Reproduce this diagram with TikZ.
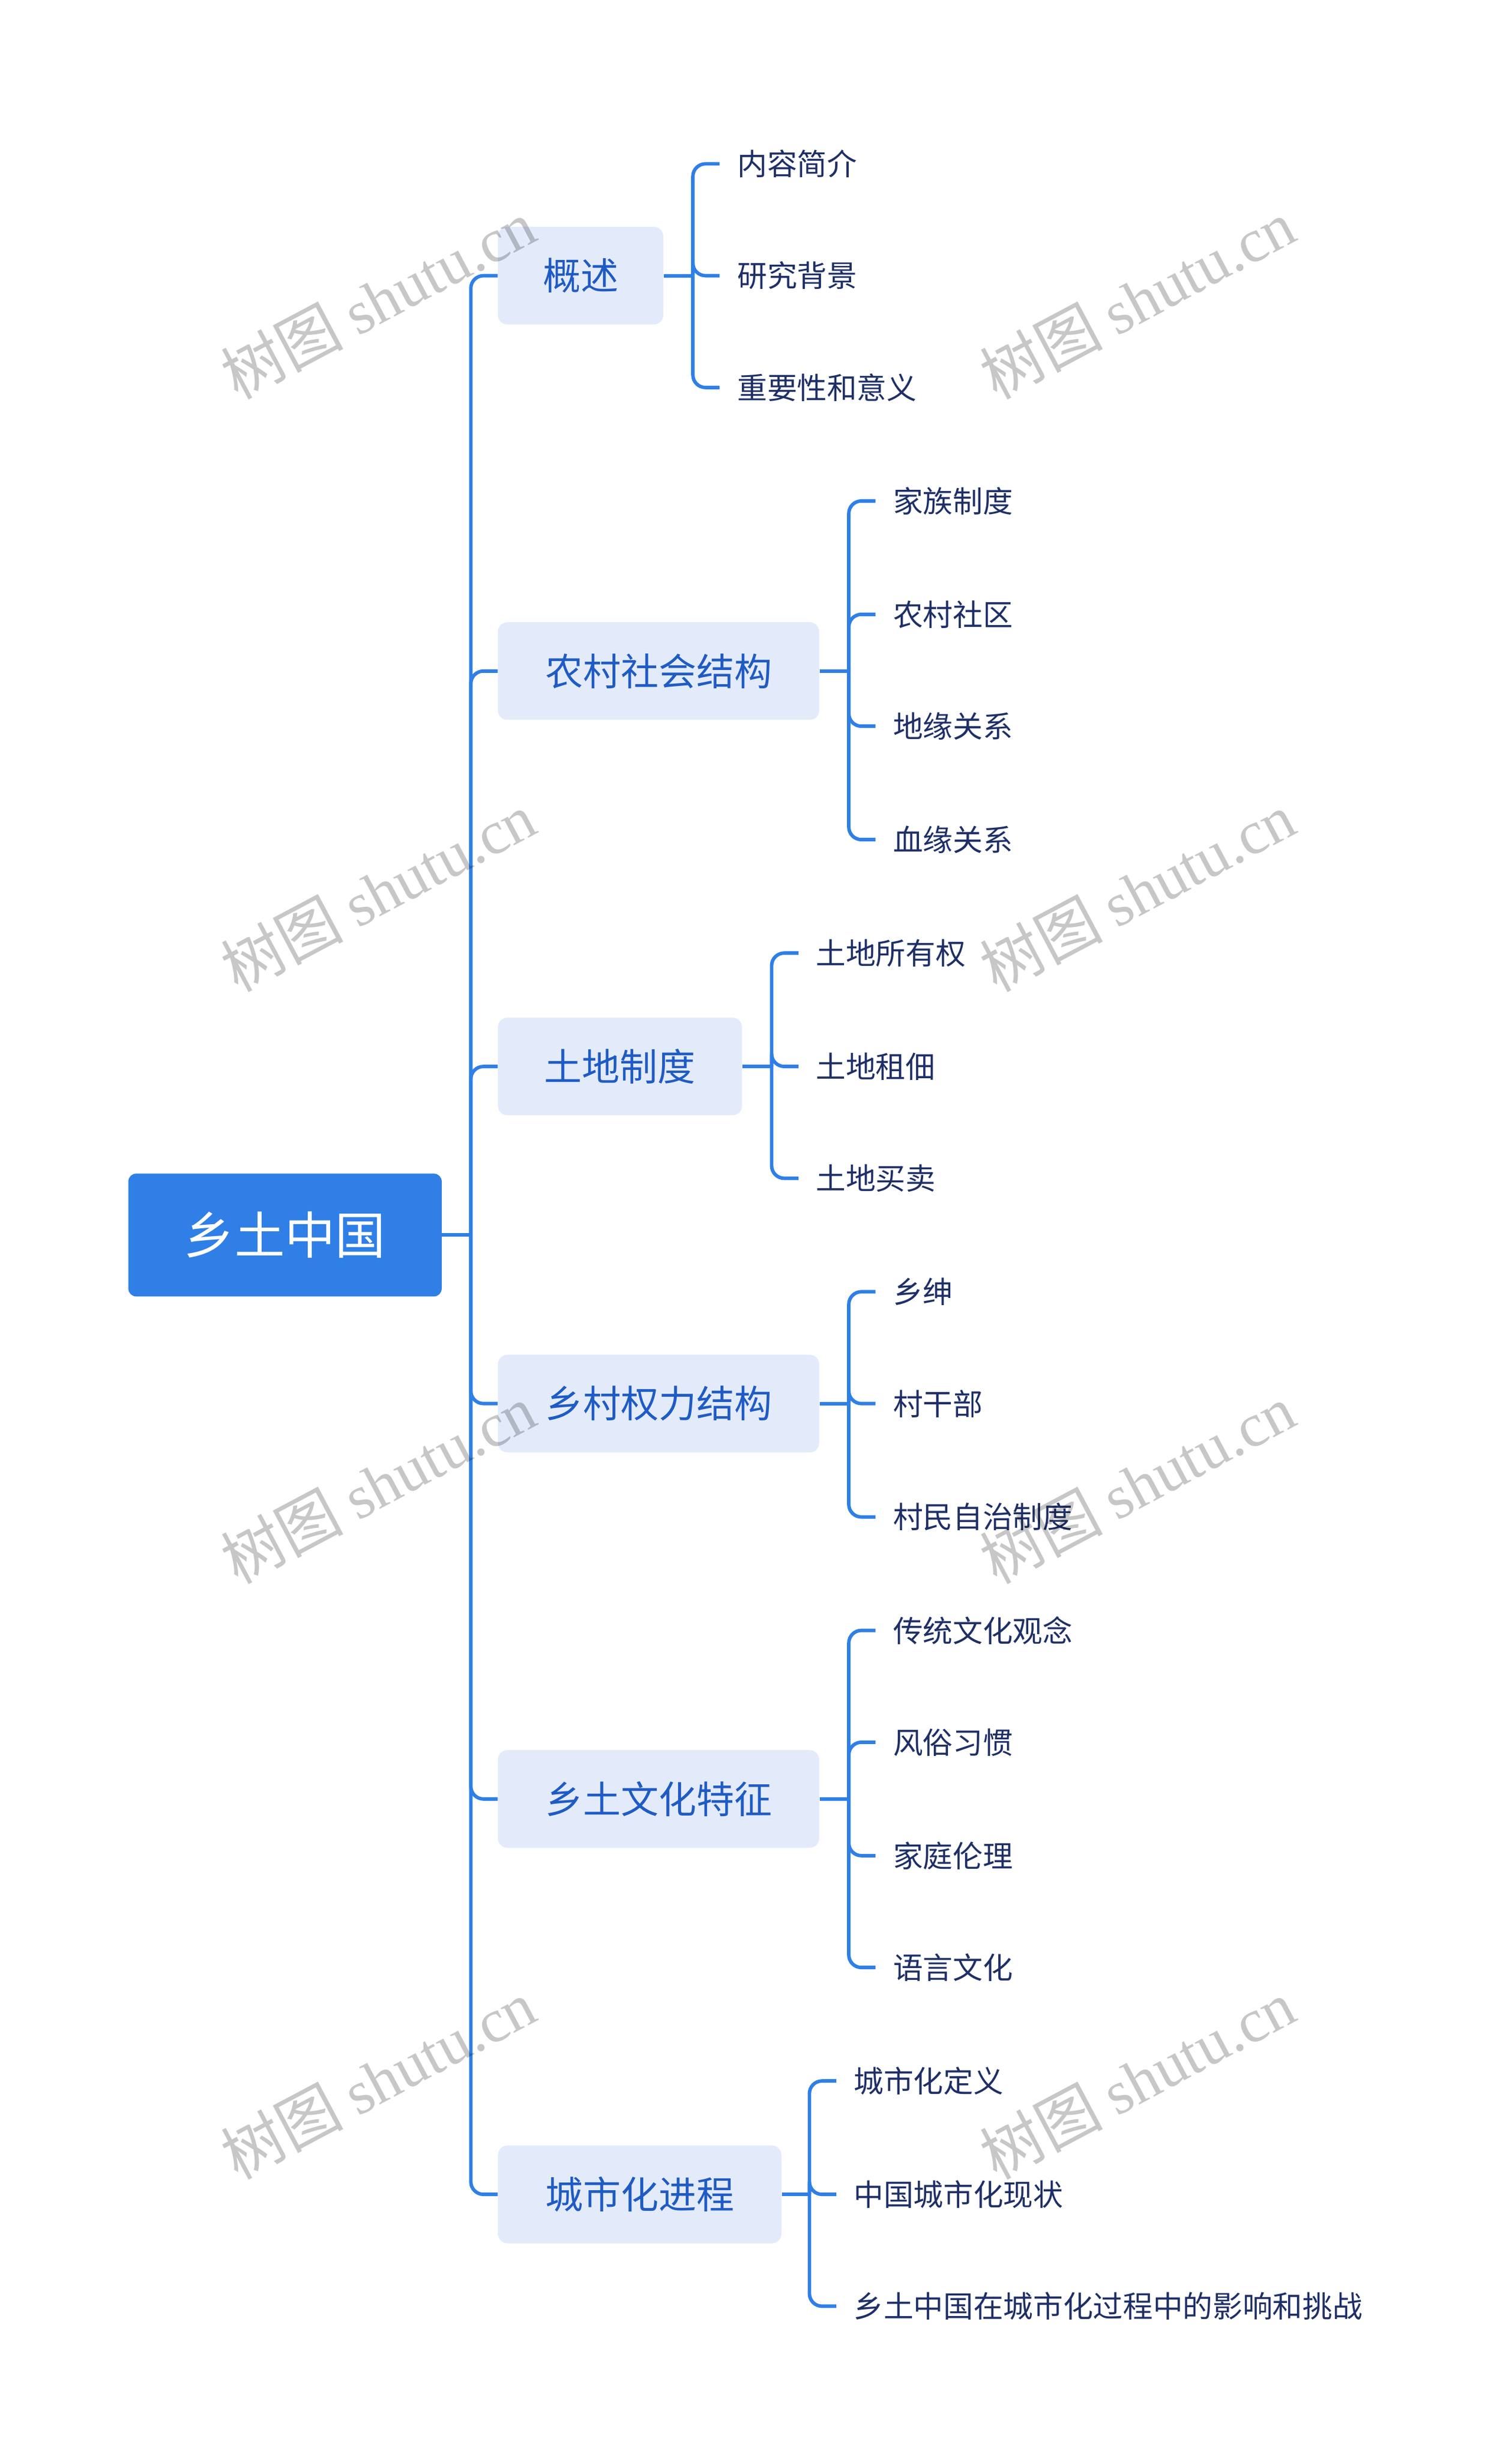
\documentclass[tikz,border=0pt]{standalone}
\usepackage{fontspec}
\setmainfont{Noto Sans CJK SC}
\definecolor{lk}{HTML}{2F7FE6}
\definecolor{lbg}{HTML}{E3EBFB}
\definecolor{ltx}{HTML}{1F5BC4}
\definecolor{leaf}{HTML}{1E2F66}
\begin{document}
\begin{tikzpicture}[x=1pt,y=-1pt,
 rootbox/.style={fill=lk,rounded corners=5pt,text=white,minimum width=199pt,minimum height=78pt,font=\fontsize{32}{36}\selectfont,inner sep=0},
 l1box/.style={fill=lbg,rounded corners=6pt,text=ltx,minimum height=62pt,anchor=west,font=\fontsize{24}{28}\selectfont,inner xsep=28pt},
 leafn/.style={anchor=west,text=leaf,font=\fontsize{19}{22}\selectfont,inner xsep=11pt,inner ysep=2pt},
 con/.style={draw=lk,line width=2.2pt,rounded corners=8pt},
 wm/.style={text=black,opacity=0.22,rotate=28,font=\fontsize{39}{42}\selectfont}]
\useasboundingbox (0,0) rectangle (960,1561);
\node[rootbox] (root) at (181,784) {乡土中国};
\node[l1box,minimum width=105pt] (a) at (316,175) {概述};
\node[l1box,minimum width=204pt] (b) at (316,426) {农村社会结构};
\node[l1box,minimum width=155pt] (c) at (316,677) {土地制度};
\node[l1box,minimum width=204pt] (d) at (316,891) {乡村权力结构};
\node[l1box,minimum width=204pt] (e) at (316,1142) {乡土文化特征};
\node[l1box,minimum width=180pt] (f) at (316,1393) {城市化进程};
\coordinate (t) at (299,784);
\draw[con] (root.east) -- (t);
\foreach \n in {a,b,c,d,e,f} \draw[con] (t) |- (\n.west);
\newcommand\leaves[3]{%
 \coordinate (#1j) at (#2,0 |- #1.east);
 \draw[con] (#1.east) -- (#1j);
 \foreach \yy/\txt [count=\i] in {#3} {
   \node[leafn] (#1\i) at (#2+17,\yy) {\txt};
   \draw[con] (#1j) |- (#1\i.west);
 }}
\leaves{a}{440}{104/内容简介,175/研究背景,246/重要性和意义}
\leaves{b}{539}{318/家族制度,390/农村社区,461/地缘关系,533/血缘关系}
\leaves{c}{490}{605/土地所有权,677/土地租佃,748/土地买卖}
\leaves{d}{539}{820/乡绅,891/村干部,963/村民自治制度}
\leaves{e}{539}{1035/传统文化观念,1106/风俗习惯,1178/家庭伦理,1249/语言文化}
\leaves{f}{514}{1321/城市化定义,1393/中国城市化现状,1464/乡土中国在城市化过程中的影响和挑战}
\foreach \x/\y in {240/190,722/190,240/566,722/566,240/942,722/942,240/1320,722/1320}
  \node[wm] at (\x,\y) {树图 {\fontspec{Liberation Serif}shutu.cn}};
\end{tikzpicture}
\end{document}
